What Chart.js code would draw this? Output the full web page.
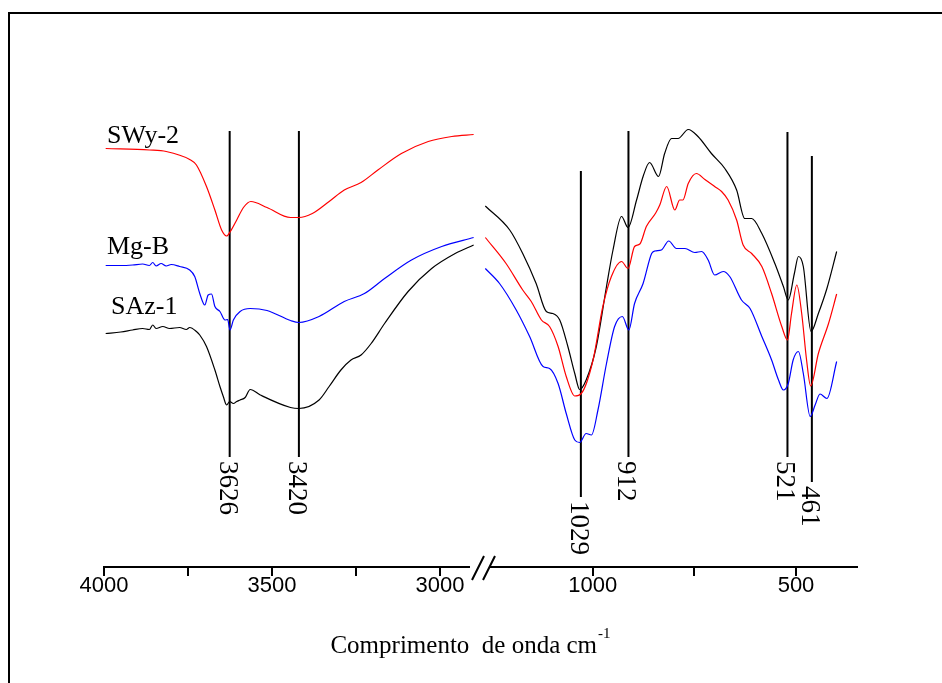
<!DOCTYPE html>
<html>
<head>
<meta charset="utf-8">
<script src="https://cdn.jsdelivr.net/npm/chart.js@4.4.0/dist/chart.umd.min.js"></script>
<style>
  body { margin: 0; background: #fff; }
  #wrap { position: relative; width: 942px; height: 683px; overflow: hidden; background: #fff; }
  #frame { position: absolute; left: 8px; top: 12px; width: 1000px; height: 1000px; border: 2px solid #000; }
  canvas { position: absolute; left: 0; top: 0; }
</style>
</head>
<body>
<div id="wrap">
  <div id="frame"></div>
  <canvas id="hiChart" width="942" height="683"></canvas>
  <canvas id="loChart" width="942" height="683"></canvas>
</div>
<script>
// ==================== DATA ====================
// transmittance in arbitrary units

// high wavenumber part (4000 - 2900 cm-1)
const swy2HiWn = [3995, 3865, 3815, 3745, 3725, 3695, 3670, 3650, 3635, 3624, 3605, 3585, 3563, 3515, 3445, 3420, 3380, 3330, 3285, 3235, 3185, 3115, 3035, 2965, 2900];
const swy2HiT = [83.7, 83.4, 83.1, 81.5, 80.4, 76.1, 71.4, 67.4, 66.2, 67.1, 69.4, 71.9, 73.1, 71.9, 69.9, 69.9, 70.7, 73.1, 75.4, 76.9, 79.4, 82.7, 85.1, 86.1, 86.5];

const mgbHiWn = [3995, 3950, 3915, 3885, 3865, 3855, 3845, 3830, 3815, 3800, 3775, 3745, 3730, 3715, 3700, 3690, 3680, 3670, 3655, 3640, 3632, 3625, 3615, 3595, 3565, 3515, 3445, 3420, 3360, 3285, 3225, 3165, 3085, 2995, 2900];
const mgbHiT = [60.3, 60.3, 60.4, 60.6, 60.3, 60.9, 60.2, 60.7, 60.2, 60.5, 60.1, 59.4, 58.1, 54.7, 52.4, 54.4, 54.6, 52.1, 51.1, 49.4, 49.5, 47.4, 49.4, 51.1, 51.7, 51.3, 49.3, 48.9, 50.1, 53.1, 54.7, 57.7, 61.4, 64.1, 65.9];

const saz1HiWn = [3995, 3950, 3915, 3885, 3865, 3855, 3845, 3825, 3805, 3775, 3755, 3745, 3725, 3715, 3695, 3670, 3655, 3645, 3635, 3626, 3615, 3605, 3595, 3580, 3565, 3535, 3445, 3420, 3360, 3330, 3295, 3265, 3235, 3205, 3165, 3095, 3025, 2955, 2900];
const saz1HiT = [46.7, 47.0, 47.4, 47.7, 47.5, 48.4, 47.7, 48.1, 47.7, 47.9, 47.5, 47.9, 47.1, 46.4, 44.1, 39.4, 36.1, 34.1, 32.4, 33.1, 32.7, 33.1, 33.4, 33.9, 35.5, 34.4, 31.9, 31.7, 33.4, 36.1, 39.4, 41.4, 42.4, 44.7, 48.7, 55.1, 59.7, 62.7, 64.4];

// low wavenumber part (1250 - 400 cm-1)
const swy2LoWn = [1264, 1213, 1172, 1151, 1126, 1106, 1085, 1065, 1044, 1028, 999, 975, 954, 929, 913, 897, 884, 868, 845, 835, 818, 798, 786, 778, 765, 745, 724, 700, 683, 667, 646, 630, 609, 584, 560, 535, 521, 511, 498, 486, 474, 464, 445, 420, 400];
const swy2LoT = [65.9, 60.7, 55.4, 53.1, 49.4, 48.1, 44.1, 38.1, 34.2, 34.7, 41.4, 52.1, 58.1, 61.1, 59.7, 64.1, 64.6, 68.1, 70.8, 72.4, 76.1, 71.4, 73.4, 73.4, 76.7, 78.7, 77.5, 76.1, 75.1, 73.4, 69.4, 64.4, 62.7, 60.1, 54.7, 48.1, 45.4, 50.7, 56.4, 50.7, 41.4, 36.2, 42.7, 48.7, 54.6];

const mgbLoWn = [1264, 1229, 1188, 1155, 1122, 1106, 1085, 1065, 1044, 1032, 1016, 1003, 987, 966, 946, 927, 911, 897, 876, 855, 847, 831, 813, 794, 773, 749, 732, 716, 700, 679, 663, 634, 613, 584, 560, 543, 531, 519, 507, 494, 482, 465, 453, 441, 424, 400];
const mgbLoT = [59.7, 56.7, 51.4, 46.1, 40.1, 39.7, 36.7, 30.7, 25.4, 24.9, 26.7, 26.4, 31.4, 40.7, 48.1, 50.1, 47.4, 52.7, 56.7, 62.7, 63.2, 63.4, 65.2, 63.7, 63.7, 62.9, 63.1, 61.4, 58.4, 59.1, 58.1, 53.4, 51.7, 46.1, 41.4, 37.4, 35.4, 36.7, 41.4, 43.1, 38.7, 30.1, 32.4, 34.6, 33.7, 41.1];

const saz1LoWn = [1264, 1204, 1172, 1139, 1114, 1098, 1081, 1061, 1044, 1032, 1016, 991, 966, 950, 929, 913, 892, 876, 860, 838, 823, 806, 790, 765, 741, 708, 675, 646, 626, 609, 584, 552, 531, 519, 504, 494, 482, 463, 445, 424, 400];
const saz1LoT = [72.2, 67.4, 62.7, 56.7, 51.1, 50.7, 49.4, 44.1, 38.7, 35.5, 37.4, 44.1, 56.1, 63.4, 70.1, 67.9, 73.4, 78.1, 80.9, 78.1, 82.7, 85.7, 85.7, 87.5, 86.1, 82.7, 79.7, 75.4, 69.7, 69.7, 66.7, 60.7, 56.1, 53.4, 58.7, 62.1, 60.1, 47.1, 50.7, 55.7, 63.1];

// marked bands (vertical lines): position, top and bottom of the line
const hiBands = [3626, 3420];
const hiBandTop = [87.2, 87.2];
const hiBandBottom = [22, 22];
const loBands = [1029, 912, 521, 461];
const loBandTop = [79.2, 87.2, 87, 82.2];
const loBandBottom = [14, 22, 22, 17];

// axis ticks
const hiTicks = [4000, 3750, 3500, 3250, 3000];
const loTicks = [1000, 750, 500];

const seriesNames = ['SWy-2', 'Mg-B', 'SAz-1'];
const seriesColors = ['#ff0000', '#0000ff', '#000000'];

// ==================== HELPERS ====================
function toPoints(xs, ys) {
    return xs.map((x, i) => ({ x: x, y: ys[i] }));
}

function spectrum(xs, ys, color) {
    return {
        data: toPoints(xs, ys),
        borderColor: color,
        borderWidth: 1.2,
        pointRadius: 0,
        cubicInterpolationMode: 'monotone',
        clip: false
    };
}

function bandLines(pos, top, bottom) {
    return pos.map((p, i) => ({
        data: [{ x: p, y: top[i] }, { x: p, y: bottom[i] }],
        borderColor: '#000',
        borderWidth: 2,
        pointRadius: 0,
        bandLabel: String(p)
    }));
}

// rotated labels under each band line
const bandLabelPlugin = {
    id: 'bandLabels',
    afterDatasetsDraw(chart) {
        const ctx = chart.ctx;
        chart.data.datasets.forEach((ds, i) => {
            if (!ds.bandLabel) return;
            const pts = chart.getDatasetMeta(i).data;
            const end = pts[pts.length - 1];
            ctx.save();
            ctx.translate(end.x, end.y + 4);
            ctx.rotate(Math.PI / 2);
            ctx.fillStyle = '#000';
            ctx.font = '27px "Liberation Serif", "Times New Roman", serif';
            ctx.textAlign = 'left';
            ctx.textBaseline = 'middle';
            ctx.fillText(ds.bandLabel, 0, 3);
            ctx.restore();
        });
    }
};

// series names, axis title and axis break
const decorPlugin = {
    id: 'decor',
    afterDraw(chart) {
        const ctx = chart.ctx;
        ctx.save();
        ctx.fillStyle = '#000';
        ctx.font = '26px "Liberation Serif", "Times New Roman", serif';
        ctx.textAlign = 'left';
        ctx.textBaseline = 'alphabetic';
        ctx.fillText(seriesNames[0], 107, 143);
        ctx.fillText(seriesNames[1], 107, 254);
        ctx.fillText(seriesNames[2], 111, 314);

        // axis title
        const main = 'Comprimento  de onda cm';
        const sup = '-1';
        ctx.font = '25px "Liberation Serif", "Times New Roman", serif';
        const w1 = ctx.measureText(main).width;
        ctx.font = '15px "Liberation Serif", "Times New Roman", serif';
        const w2 = ctx.measureText(sup).width;
        const x0 = 470 - (w1 + w2) / 2;
        ctx.font = '25px "Liberation Serif", "Times New Roman", serif';
        ctx.fillText(main, x0, 653);
        ctx.font = '15px "Liberation Serif", "Times New Roman", serif';
        ctx.fillText(sup, x0 + w1 + 1, 638);

        // break marks
        ctx.strokeStyle = '#000';
        ctx.lineWidth = 2;
        ctx.beginPath();
        ctx.moveTo(472, 580); ctx.lineTo(484, 556);
        ctx.moveTo(483, 580); ctx.lineTo(495, 556);
        ctx.stroke();
        ctx.restore();
    }
};

function chartOptions(xMin, xMax, tickVals, pad) {
    return {
        responsive: false,
        animation: false,
        devicePixelRatio: 1,
        layout: { padding: pad },
        plugins: { legend: { display: false }, tooltip: { enabled: false } },
        scales: {
            x: {
                type: 'linear',
                reverse: true,
                min: xMin,
                max: xMax,
                afterBuildTicks: s => { s.ticks = tickVals.map(v => ({ value: v })); },
                afterFit: s => { s.height = 40; },
                grid: { drawOnChartArea: false, drawTicks: true, tickLength: 9, color: '#000', lineWidth: 2 },
                border: { display: true, color: '#000', width: 2 },
                ticks: {
                    color: '#000',
                    padding: -3,
                    autoSkip: false,
                    maxRotation: 0,
                    font: { family: 'Liberation Sans', size: 22 },
                    callback: v => (v % 500 === 0 ? String(v) : '')
                }
            },
            y: { display: false, min: 0, max: 90 }
        }
    };
}

// ==================== CHARTS ====================
new Chart(document.getElementById('hiChart'), {
    type: 'line',
    data: {
        datasets: [
            spectrum(swy2HiWn, swy2HiT, seriesColors[0]),
            spectrum(mgbHiWn, mgbHiT, seriesColors[1]),
            spectrum(saz1HiWn, saz1HiT, seriesColors[2]),
            ...bandLines(hiBands, hiBandTop, hiBandBottom)
        ]
    },
    options: chartOptions(2915, 4000, hiTicks, { left: 104, right: 473.4, top: 117, bottom: 76 }),
    plugins: [bandLabelPlugin, decorPlugin]
});

new Chart(document.getElementById('loChart'), {
    type: 'line',
    data: {
        datasets: [
            spectrum(swy2LoWn, swy2LoT, seriesColors[0]),
            spectrum(mgbLoWn, mgbLoT, seriesColors[1]),
            spectrum(saz1LoWn, saz1LoT, seriesColors[2]),
            ...bandLines(loBands, loBandTop, loBandBottom)
        ]
    },
    options: chartOptions(350, 1250, loTicks, { left: 491, right: 85, top: 117, bottom: 76 }),
    plugins: [bandLabelPlugin]
});
</script>
</body>
</html>
